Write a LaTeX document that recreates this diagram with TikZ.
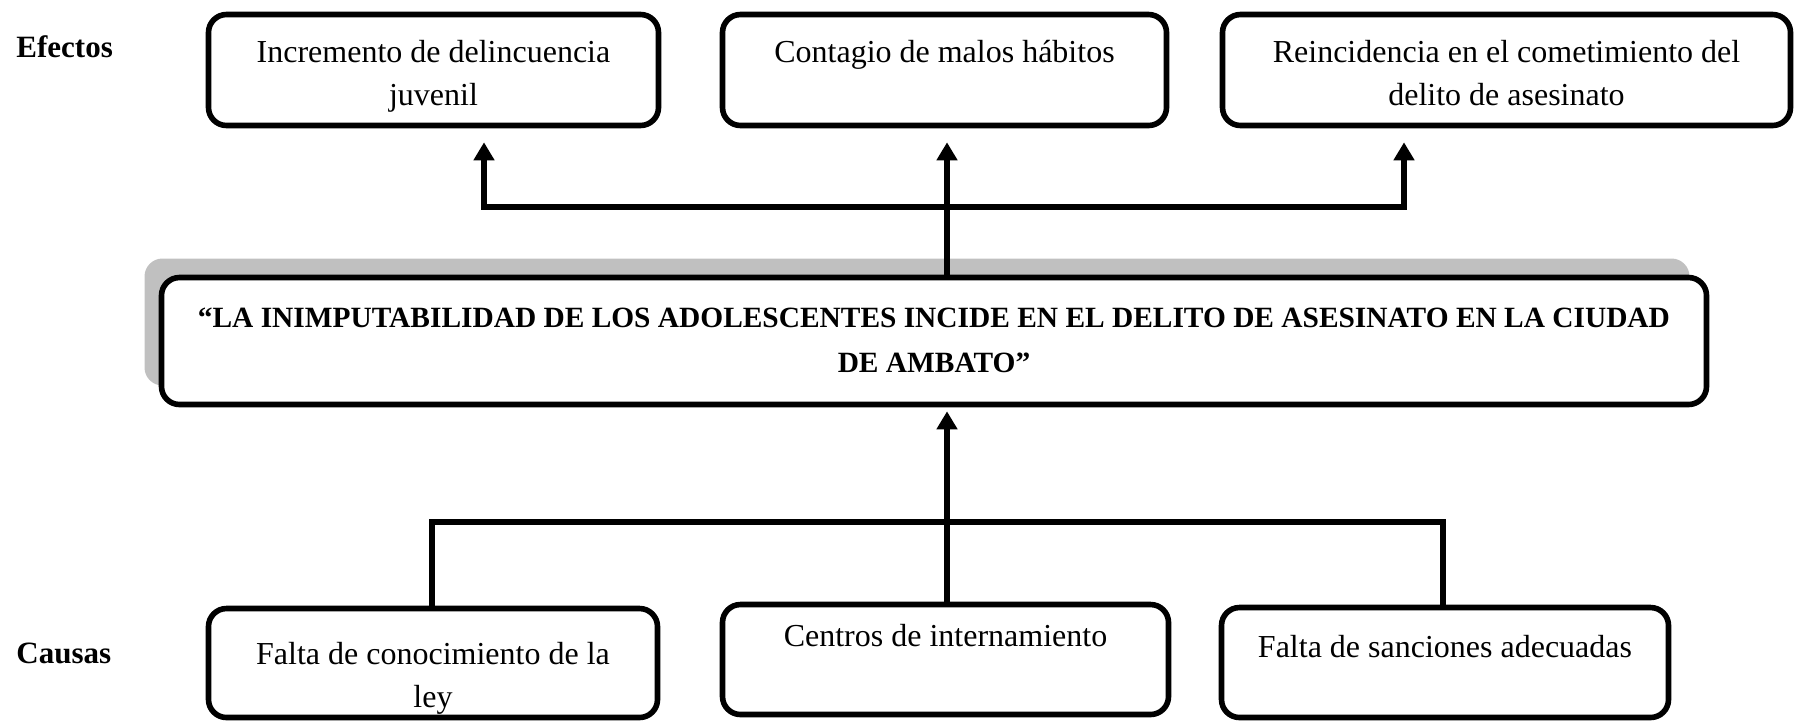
\documentclass[tikz,border=0pt]{standalone}
\usepackage{fontspec}
\setmainfont{Liberation Serif}
\usetikzlibrary{positioning,arrows.meta,shadows}

\definecolor{sombra}{RGB}{192,192,192}
% ancho, alto, altura de la primera linea, texto
\newcommand{\textocaja}[4]{\parbox[c][#2][t]{#1}{\centering\rule{0pt}{#3}#4\par}}

\tikzset{
  caja/.style={draw, fill=white, line width=2.8pt, rounded corners=9pt, inner sep=0pt,
    font=\fontsize{16}{21.5}\selectfont},
  tema/.style={caja, font=\bfseries\fontsize{14.7}{22.5}\selectfont,
    general shadow={fill=sombra, shadow xshift=-8.5pt, shadow yshift=9.5pt}},
  etiqueta/.style={font=\bfseries\fontsize{15.5}{18}\selectfont, inner sep=0pt},
  linea/.style={line width=3pt},
  flecha/.style={linea, -{Triangle[width=10pt,length=9pt]}}
}

\begin{document}
\begin{tikzpicture}[x=0.5pt, y=-0.5pt]
  \useasboundingbox (0,0) rectangle (1797,725);

  % efectos
  \node[etiqueta, anchor=base west] (efectos) at (16,57) {Efectos};
  \node[caja] (e1) at (433.5,70) {\textocaja{225pt}{55.5pt}{24pt}{Incremento de delincuencia\\juvenil}};
  \node[caja] (e2) at (944.5,70) {\textocaja{222pt}{55.5pt}{24pt}{Contagio de malos hábitos}};
  \node[caja] (e3) at (1506.5,70) {\textocaja{284pt}{55.5pt}{24pt}{Reincidencia en el cometimiento del\\delito de asesinato}};

  % problema central
  \node[tema] (tema) at (934,341) {\textocaja{772.5pt}{63.5pt}{25pt}{“LA INIMPUTABILIDAD DE LOS ADOLESCENTES INCIDE EN EL DELITO DE ASESINATO EN LA CIUDAD\\DE AMBATO”}};

  % causas
  \node[etiqueta, anchor=base west] (causas) at (16,663) {Causas};
  \node[caja] (c1) at (433,663) {\textocaja{224.5pt}{54.5pt}{28pt}{Falta de conocimiento de la\\ley}};
  \node[caja] (c2) at (945.5,659.5) {\textocaja{223pt}{55pt}{21pt}{Centros de internamiento}};
  \node[caja] (c3) at (1445,662.5) {\textocaja{223.5pt}{55pt}{25pt}{Falta de sanciones adecuadas}};

  % conectores de arriba
  \coordinate (t1) at (484,207);
  \coordinate (t2) at (947,207);
  \coordinate (t3) at (1404,207);
  \draw[flecha, shorten >=7pt] (t2) -- (t1) -- (t1 |- e1.south);
  \draw[flecha, shorten >=7pt] (t2) -- (t3) -- (t3 |- e3.south);
  \draw[flecha, shorten >=7pt] (t2 |- tema.north) -- (t2 |- e2.south);

  % conectores de abajo
  \coordinate (b1) at (432,522);
  \coordinate (b2) at (947,522);
  \coordinate (b3) at (1443,522);
  \draw[linea] (b1 |- c1.north) -- (b1) -- (b3) -- (b3 |- c3.north);
  \draw[linea] (b2) -- (b2 |- c2.north);
  \draw[flecha, shorten >=2pt] (b2) -- (b2 |- tema.south);
\end{tikzpicture}
\end{document}
